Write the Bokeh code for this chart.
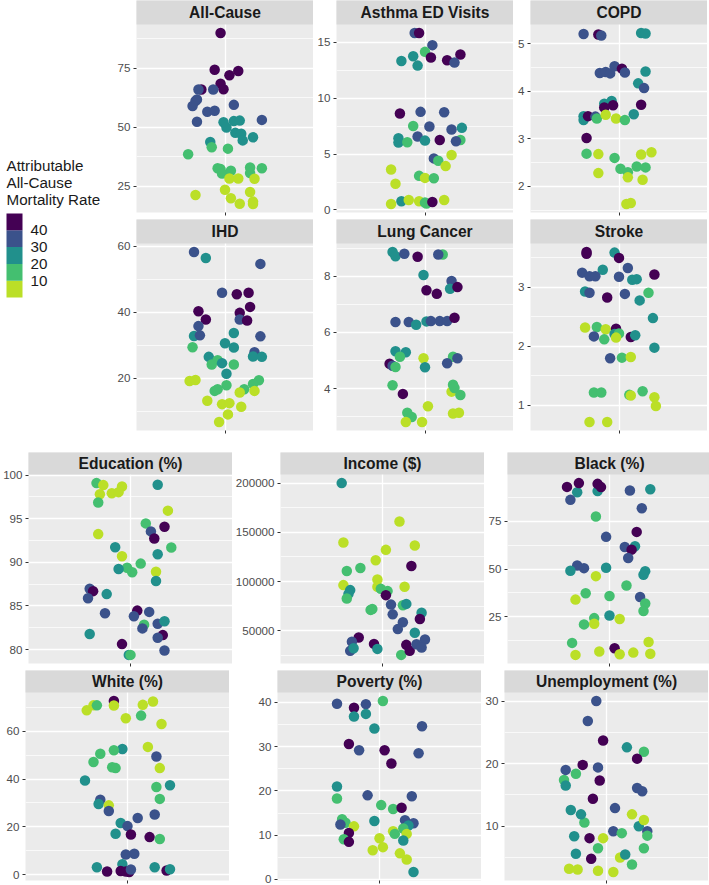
from bokeh.plotting import figure
from bokeh.layouts import row, column
from bokeh.models import Range1d, FixedTicker, NumeralTickFormatter, ColumnDataSource, Spacer
from bokeh.core.properties import value
from bokeh.embed import file_html
from bokeh.resources import INLINE

# ---------------- colour classes (binned attributable all-cause mortality rate) ----------------
CLASS_COLORS = {"P": "#440154", "B": "#3B528B", "T": "#21908C", "G": "#44BF70", "Y": "#BBDF27"}
LEGEND_TITLE = ["Attributable", "All-Cause", "Mortality Rate"]
LEGEND_BREAKS = [10, 20, 30, 40]
LEGEND_EDGES = [0, 10, 20, 30, 40, 50]
LEGEND_CLASSES = ["Y", "G", "T", "B", "P"]

# ---------------- data: x = horizontal jitter, y = value, c = colour class ----------------
ALLCAUSE_X = [-0.03, -0.07, 0.09, 0.03, -0.03, -0.01, -0.16, -0.18, -0.08, -0.19, -0.2, -0.22, 0.06, -0.12, -0.07, -0.19, 0.25,
              -0.01, 0.06, 0.1, 0.01, 0.07, 0.11, 0.12, 0.19, -0.1, -0.09, 0.02, -0.25, -0.05, -0.03, -0.02, 0.04, 0.17, 0.17,
              0.25, 0.03, 0.09, 0.2, 0.0, 0.17, -0.2, 0.04, 0.1, 0.19, 0.19]
ALLCAUSE_Y = [90.0, 74.4, 73.9, 72.1, 68.5, 66.1, 66.0, 66.0, 66.0, 61.8, 61.1, 59.0, 59.5, 56.6, 57.0, 52.3, 53.1, 52.1, 52.6,
              52.8, 49.9, 47.6, 47.2, 44.4, 45.7, 43.7, 41.5, 40.9, 38.5, 32.6, 32.2, 30.3, 31.5, 32.9, 30.5, 32.6, 28.2, 28.2,
              28.1, 23.4, 22.5, 21.2, 19.8, 17.5, 18.4, 17.4]
ALLCAUSE_C = list("PPPPPPPBBBBBBBBBBTTTTTTTTTGGGGGGGGGGYYYYYYYYYY")

ASTHMA_X = [-0.07, -0.04, 0.05, 0.0, -0.08, -0.16, -0.05, 0.04, 0.15, 0.24, 0.2, -0.17, -0.03, 0.13, -0.08, 0.03, 0.18, 0.25,
            -0.05, -0.18, -0.18, -0.12, 0.0, 0.1, 0.24, 0.21, 0.06, 0.09, 0.18, 0.14, -0.23, -0.2, -0.04, 0.0, 0.06, -0.23,
            -0.16, -0.11, -0.04, 0.0, 0.01, 0.05, 0.13]
ASTHMA_Y = [15.81, 15.81, 14.73, 14.13, 13.74, 13.32, 12.9, 13.62, 13.38, 13.89, 13.17, 8.62, 8.77, 8.74, 7.51, 7.46, 7.19,
            7.34, 6.56, 6.41, 6.02, 6.05, 6.2, 6.26, 6.26, 6.14, 4.61, 4.4, 4.91, 3.92, 3.62, 2.34, 3.05, 2.87, 2.84, 0.54,
            0.78, 0.9, 0.78, 0.66, 0.57, 0.72, 0.9]
ASTHMA_C = list("BPBGTTTPPPBPBBGBBTBTTGTPGBBGYYYYGYGYTYYGGPY")

COPD_X = [-0.24, -0.14, -0.12, 0.15, 0.18, -0.13, -0.09, -0.06, -0.03, 0.02, 0.04, 0.18, 0.13, 0.17, -0.05, -0.1, -0.04, -0.1,
          0.15, 0.1, -0.24, -0.24, -0.21, -0.16, -0.15, -0.09, -0.02, 0.04, -0.22, -0.22, -0.14, -0.03, 0.15, 0.22, 0.01,
          0.06, 0.12, 0.18, -0.14, 0.06, 0.16, 0.05, 0.08]
COPD_Y = [5.21, 5.2, 5.18, 5.23, 5.22, 4.39, 4.41, 4.38, 4.53, 4.48, 4.4, 4.42, 4.17, 4.07, 3.8, 3.74, 3.71, 3.66, 3.72, 3.52,
          3.48, 3.4, 3.48, 3.47, 3.43, 3.51, 3.43, 3.4, 3.02, 2.69, 2.68, 2.6, 2.67, 2.72, 2.37, 2.3, 2.42, 2.4, 2.28, 2.19,
          2.14, 1.63, 1.65]
COPD_C = list("BPBTTBBBBPBTTBTTPPPTTTPBGYYGPGYGYYGGGGYYYYY")

IHD_X = [-0.21, -0.13, 0.24, -0.02, 0.08, 0.16, 0.17, -0.18, 0.1, 0.1, 0.15, -0.13, -0.18, -0.21, -0.17, 0.06, 0.24, -0.22,
         0.0, 0.06, -0.11, 0.2, 0.19, 0.25, -0.05, -0.09, -0.02, 0.06, 0.01, -0.24, -0.2, 0.01, -0.07, -0.05, 0.13, 0.23,
         0.19, 0.1, 0.2, -0.12, -0.02, 0.03, 0.11, 0.02, -0.04]
IHD_Y = [58.2, 56.4, 54.6, 45.9, 45.4, 45.9, 41.6, 40.3, 39.8, 37.8, 37.5, 37.8, 35.8, 32.8, 33.0, 33.7, 32.7, 29.4, 30.6,
         29.3, 26.5, 27.9, 26.6, 26.5, 25.5, 24.2, 24.6, 24.2, 21.4, 19.2, 19.5, 17.9, 16.2, 16.7, 16.7, 19.4, 18.3, 15.7,
         16.2, 13.2, 12.2, 12.5, 11.4, 9.1, 6.8]
IHD_C = list("BTBBPPPPPBPPBTBTBGTTTBTTGGTGTYYGGGGGGYYYYYYYY")

LUNG_X = [-0.22, -0.2, -0.14, -0.05, 0.12, 0.09, -0.01, 0.18, 0.17, 0.22, 0.01, 0.08, -0.2, -0.11, -0.06, 0.01, 0.04, 0.1,
          0.15, 0.2, -0.2, -0.13, -0.17, -0.01, 0.19, 0.22, -0.24, -0.22, -0.2, 0.0, 0.15, -0.22, -0.15, 0.18, 0.19, 0.2,
          0.24, 0.02, -0.12, -0.09, 0.19, 0.23, -0.13, -0.02]
LUNG_Y = [8.86, 8.71, 8.8, 8.69, 8.77, 8.77, 8.04, 7.83, 7.55, 7.61, 7.5, 7.37, 6.37, 6.37, 6.27, 6.39, 6.4, 6.4, 6.4, 6.52,
          5.33, 5.29, 5.13, 5.08, 5.13, 5.08, 4.88, 4.81, 4.77, 4.76, 4.9, 4.12, 3.81, 3.89, 4.14, 4.02, 3.77, 3.37, 3.14,
          2.99, 3.11, 3.14, 2.81, 2.81]
LUNG_C = list("TTBPGBTBTPPPBBTTBBBPTTGYGBPBGTBGPYGGGYGGYYYY")

STROKE_X = [-0.22, -0.22, -0.03, 0.0, -0.11, -0.25, -0.2, -0.16, 0.0, 0.06, 0.09, 0.12, 0.24, -0.23, -0.2, -0.08, 0.04, 0.14,
            0.2, 0.23, -0.23, -0.15, -0.09, -0.02, -0.03, 0.0, -0.02, -0.17, -0.1, 0.08, 0.11, 0.24, -0.06, 0.02, 0.08,
            -0.17, -0.12, 0.07, 0.08, 0.16, 0.24, 0.25, -0.2, -0.08]
STROKE_Y = [3.6, 3.57, 3.59, 3.5, 3.3, 3.25, 3.19, 3.19, 3.18, 3.33, 3.13, 3.14, 3.22, 2.93, 2.91, 2.83, 2.89, 2.78, 2.91,
            2.48, 2.32, 2.33, 2.29, 2.3, 2.21, 2.22, 2.15, 2.17, 2.12, 2.16, 2.19, 1.98, 1.8, 1.81, 1.82, 1.22, 1.22, 1.18,
            1.17, 1.24, 1.14, 0.99, 0.72, 0.72]
STROKE_C = list("PPTPTBBBBBTTPTBPBTGTYGYPTGYBGPTTBGYGGGYGYYYY")

EDU_X = [-0.2, -0.16, -0.05, -0.18, -0.11, -0.07, -0.19, 0.16, 0.22, 0.09, 0.12, 0.2, 0.14, -0.19, -0.09, 0.24, -0.05, 0.16,
         0.06, -0.02, -0.07, 0.01, 0.15, 0.15, -0.24, -0.22, -0.25, -0.14, -0.15, 0.04, 0.02, 0.11, 0.08, 0.07, 0.16, 0.2,
         -0.24, 0.19, 0.16, -0.05, 0.2, -0.01, 0.0]
EDU_Y = [99.08, 98.85, 98.69, 97.81, 97.92, 98.04, 96.85, 98.88, 95.92, 94.46, 93.54, 94.08, 92.73, 93.23, 91.73, 91.69,
         90.69, 90.92, 89.85, 89.38, 89.23, 88.85, 88.92, 87.85, 86.96, 86.69, 85.88, 86.35, 84.15, 84.46, 83.81, 84.31,
         82.85, 82.42, 82.96, 83.23, 81.77, 81.65, 81.35, 80.62, 79.88, 79.38, 79.38]
EDU_C = list("GYYYYYGTYGBPPYTGYTGGTGYTBPBTBPBBGBBTTPBPBTG")

INCOME_X = [-0.24, 0.1, -0.23, 0.19, 0.02, -0.04, 0.17, -0.21, -0.13, -0.03, -0.23, -0.03, 0.13, -0.01, 0.03, -0.19, -0.2,
            -0.21, 0.02, 0.05, 0.12, 0.14, -0.07, -0.06, 0.06, 0.23, 0.22, 0.12, 0.09, 0.19, -0.14, -0.18, 0.25, -0.05,
            -0.19, -0.17, -0.03, 0.11, 0.14, 0.16, 0.2, 0.23]
INCOME_Y = [200000, 161000, 139700, 136600, 132200, 121600, 115800, 110700, 113800, 102200, 96400, 94700, 94700, 92600,
            90300, 91300, 87500, 82800, 86200, 76600, 75900, 77300, 71200, 72200, 66700, 68400, 62000, 58600, 51700,
            48000, 43200, 38800, 41200, 36700, 29600, 32300, 31600, 25500, 35700, 29600, 36400, 33000]
INCOME_C = list("TYYYYYPGGYYYYGGTTGPBGTGGBTPBBTPBBPBTTGPPBB")

BLACK_X = [-0.07, -0.19, -0.25, -0.18, -0.07, -0.05, -0.23, 0.12, 0.24, 0.19, -0.08, 0.16, -0.02, 0.09, 0.15, 0.13, 0.11,
           -0.19, -0.15, -0.23, -0.02, 0.21, 0.2, -0.08, 0.1, -0.14, 0.0, 0.18, -0.2, 0.21, 0.2, 0.0, 0.06, -0.09, -0.09,
           -0.15, -0.22, 0.23, 0.03, -0.2, -0.06, 0.06, 0.14, 0.24]
BLACK_Y = [90.9, 90.3, 93.1, 95.1, 94.7, 93.0, 86.3, 91.2, 91.9, 81.9, 77.6, 69.5, 66.9, 61.6, 62.0, 60.2, 55.8, 51.9, 50.5,
           49.1, 50.7, 48.9, 47.0, 46.3, 41.4, 37.3, 35.9, 35.4, 34.0, 32.0, 28.0, 25.7, 23.8, 24.3, 21.3, 21.0, 11.3, 11.8,
           8.5, 5.0, 6.8, 5.3, 6.2, 5.6]
BLACK_C = list("TTPPPPBBTBGPBBTPBBBTTTTYGGGBYGGTYGYGGYPYYYYY")

WHITE_X = [-0.08, -0.08, -0.24, -0.2, -0.18, 0.09, 0.15, -0.01, 0.08, 0.2, 0.12, -0.03, -0.08, -0.16, 0.17, -0.2, -0.09,
           -0.07, 0.19, -0.25, 0.17, 0.25, 0.19, -0.16, -0.17, -0.11, -0.11, 0.16, 0.06, -0.04, 0.0, -0.07, 0.02, 0.13, 0.19,
           -0.01, 0.04, -0.03, -0.18, 0.16, -0.12, -0.04, -0.01, 0.01, 0.02, 0.23, 0.25]
WHITE_Y = [72.7, 70.8, 68.8, 70.9, 70.9, 71.1, 72.5, 65.5, 66.6, 63.1, 53.5, 52.6, 52.1, 50.6, 49.5, 47.2, 45.0, 44.6, 44.6,
           39.4, 36.7, 37.4, 31.7, 31.4, 29.6, 29.0, 26.6, 25.2, 23.7, 21.6, 20.3, 17.1, 16.8, 15.7, 14.9, 8.4, 8.7, 4.3,
           3.1, 3.1, 1.3, 1.5, 1.3, 1.1, 2.1, 1.7, 2.2]
WHITE_C = list("PYYYGYYYGYYTGGBGGGYTGTGBTYBBBTBTPPGBBTTTPPPPBPT")

POVERTY_X = [-0.25, -0.15, -0.08, 0.02, -0.15, -0.08, -0.03, 0.25, -0.18, -0.12, 0.03, 0.23, 0.07, -0.25, -0.25, -0.07, 0.19,
             0.01, 0.08, 0.13, -0.22, -0.2, -0.23, -0.15, -0.03, 0.15, 0.2, 0.17, 0.14, 0.08, 0.09, 0.16, -0.18, -0.21,
             -0.18, 0.0, 0.14, -0.04, 0.02, 0.12, 0.16, 0.2]
POVERTY_Y = [39.7, 38.8, 39.6, 40.3, 36.8, 37.4, 34.1, 34.6, 30.6, 29.2, 29.2, 28.5, 26.2, 21.0, 18.3, 19.0, 18.8, 16.8,
             15.9, 16.2, 13.6, 12.8, 12.4, 12.0, 13.2, 13.4, 12.7, 12.2, 11.5, 10.9, 10.3, 10.3, 10.5, 9.1, 8.5, 9.3, 8.8,
             6.6, 7.3, 5.9, 4.5, 1.7]
POVERTY_C = list("BPBGTTTBPBPBPTGBBGGPGGBYTBBTGYGYPGPYTYYYYT")

UNEMP_X = [-0.06, -0.11, -0.02, 0.12, 0.22, 0.18, -0.14, -0.05, -0.18, -0.25, -0.24, -0.24, 0.18, 0.21, -0.04, -0.08, -0.21,
           0.05, 0.15, -0.13, 0.04, 0.09, 0.19, 0.24, 0.24, -0.19, -0.1, -0.02, -0.05, 0.22, -0.18, -0.09, 0.08, 0.15, -0.22,
           -0.17, -0.05, 0.04, 0.11, -0.15, 0.22]
UNEMP_Y = [30.0, 26.8, 23.7, 22.6, 21.9, 20.8, 19.8, 19.4, 18.4, 17.4, 19.0, 16.5, 16.1, 15.6, 17.3, 14.4, 12.6, 12.9, 11.9,
           10.6, 9.2, 8.9, 10.0, 9.2, 8.5, 8.4, 8.1, 8.1, 6.5, 6.5, 5.6, 4.8, 5.0, 3.9, 3.2, 3.1, 2.9, 2.7, 5.5, 11.9, 11.0]
UNEMP_C = list("BBPTGPPBGGBTBBPPTBYGBGTBGTPYGGTPYGYYYYTTY")

# ---------------- axis breaks (major, minor) ----------------
TICKS = {
    "All-Cause": ([25, 50, 75], [12.5, 37.5, 62.5, 87.5]),
    "Asthma ED Visits": ([0, 5, 10, 15], [2.5, 7.5, 12.5]),
    "COPD": ([2, 3, 4, 5], [1.5, 2.5, 3.5, 4.5]),
    "IHD": ([20, 40, 60], [10, 30, 50]),
    "Lung Cancer": ([4, 6, 8], [3, 5, 7, 9]),
    "Stroke": ([1, 2, 3], [0.5, 1.5, 2.5, 3.5]),
    "Education (%)": ([80, 85, 90, 95, 100], [82.5, 87.5, 92.5, 97.5]),
    "Income ($)": ([50000, 100000, 150000, 200000], [25000, 75000, 125000, 175000]),
    "Black (%)": ([25, 50, 75], [12.5, 37.5, 62.5, 87.5]),
    "White (%)": ([0, 20, 40, 60], [10, 30, 50, 70]),
    "Poverty (%)": ([0, 10, 20, 30, 40], [5, 15, 25, 35]),
    "Unemployment (%)": ([10, 20, 30], [5, 15, 25]),
}

FONT = "Liberation Sans"
X_LO, X_HI = -0.6, 0.6


def make_panel(title, xs, ys, cs, fw, fh, bl, sh, bb):
    """One facet: data panel of height fh with a grey strip of height sh on top (same figure)."""
    lo, hi = min(ys), max(ys)
    pad = 0.05 * (hi - lo)
    y0, y1 = lo - pad, hi + pad
    per_px = (y1 - y0) / fh
    ytop = y1 + sh * per_px

    p = figure(frame_width=fw, frame_height=fh + sh, x_range=Range1d(X_LO, X_HI), y_range=Range1d(y0, ytop),
               toolbar_location=None, output_backend="svg",
               min_border_left=bl, min_border_right=0, min_border_top=0, min_border_bottom=bb,
               background_fill_color="#EBEBEB", border_fill_color="white", outline_line_color=None)
    major, minor = TICKS[title]
    yt = FixedTicker(ticks=major, minor_ticks=minor)
    p.yaxis.ticker = yt
    p.ygrid.ticker = yt
    p.yaxis.formatter = NumeralTickFormatter(format="0")
    p.yaxis.axis_line_color = None
    p.yaxis.major_tick_line_color = "#333333"
    p.yaxis.major_tick_in = 0
    p.yaxis.major_tick_out = 3
    p.yaxis.minor_tick_line_color = None
    p.yaxis.major_label_text_font = FONT
    p.yaxis.major_label_text_font_size = "11.6px"
    p.yaxis.major_label_text_color = "#4D4D4D"
    p.yaxis.major_label_standoff = 2

    xt = FixedTicker(ticks=[0])
    p.xaxis.ticker = xt
    p.xgrid.ticker = xt
    p.xaxis.axis_line_color = None
    p.xaxis.major_tick_line_color = "#333333"
    p.xaxis.major_tick_in = 0
    p.xaxis.major_tick_out = 3
    p.xaxis.minor_tick_line_color = None
    p.xaxis.major_label_text_font_size = "0px"
    p.xaxis.major_label_overrides = {0: ""}
    p.xaxis.major_label_standoff = 0

    p.xgrid.grid_line_color = "white"
    p.xgrid.grid_line_width = 1.3
    p.ygrid.grid_line_color = "white"
    p.ygrid.grid_line_width = 1.3
    p.ygrid.minor_grid_line_color = "white"
    p.ygrid.minor_grid_line_width = 0.7

    src = ColumnDataSource(dict(x=xs, y=ys, color=[CLASS_COLORS[c] for c in cs]))
    p.scatter(x="x", y="y", source=src, size=10.5, fill_color="color", line_color=None)

    # facet strip
    p.quad(left=[X_LO], right=[X_HI], bottom=[y1], top=[ytop], fill_color="#D9D9D9", line_color=None,
           level="annotation")
    p.text(x=[(X_LO + X_HI) / 2], y=[(y1 + ytop) / 2], text=[title], text_align="center", text_baseline="middle",
           text_font=value(FONT), text_font_style="bold", text_font_size="15.6px", text_color="#1A1A1A",
           level="overlay")
    return p


# ---------------- legend ----------------
LEG_W, LEG_H = 110, 437
leg = figure(frame_width=LEG_W, frame_height=LEG_H, x_range=Range1d(0, LEG_W), y_range=Range1d(LEG_H, 0),
             x_axis_type=None, y_axis_type=None, toolbar_location=None, output_backend="svg",
             min_border_left=0, min_border_right=0, min_border_top=0, min_border_bottom=0,
             background_fill_color="white", border_fill_color="white", outline_line_color=None)
bar_top, bar_bottom = 213.0, 297.0


def leg_y(v):
    return bar_bottom - (v - LEGEND_EDGES[0]) / (LEGEND_EDGES[-1] - LEGEND_EDGES[0]) * (bar_bottom - bar_top)


leg.quad(left=6, right=22, bottom=[leg_y(a) for a in LEGEND_EDGES[:-1]], top=[leg_y(b) for b in LEGEND_EDGES[1:]],
         fill_color=[CLASS_COLORS[c] for c in LEGEND_CLASSES], line_color=None)
leg.text(x=30, y=[leg_y(b) for b in LEGEND_BREAKS], text=[str(b) for b in LEGEND_BREAKS], text_align="left",
         text_baseline="middle", text_font=value(FONT), text_font_size="15.2px", text_color="#1A1A1A")
leg.text(x=6, y=[165, 182, 199], text=LEGEND_TITLE, text_align="left", text_baseline="middle",
         text_font=value(FONT), text_font_size="15.2px", text_color="#1A1A1A")

# ---------------- panels ----------------
TW, TS = 177, 24
pA = make_panel("All-Cause", ALLCAUSE_X, ALLCAUSE_Y, ALLCAUSE_C, TW, 188, 26, TS, 7)
pB = make_panel("Asthma ED Visits", ASTHMA_X, ASTHMA_Y, ASTHMA_C, TW, 188, 23, TS, 7)
pC = make_panel("COPD", COPD_X, COPD_Y, COPD_C, TW, 188, 17, TS, 7)
pD = make_panel("IHD", IHD_X, IHD_Y, IHD_C, TW, 187, 26, TS, 7)
pE = make_panel("Lung Cancer", LUNG_X, LUNG_Y, LUNG_C, TW, 187, 23, TS, 7)
pF = make_panel("Stroke", STROKE_X, STROKE_Y, STROKE_C, TW, 187, 17, TS, 7)

BW = 204
pG = make_panel("Education (%)", EDU_X, EDU_Y, EDU_C, BW, 189, 25, 22, 7)
pH = make_panel("Income ($)", INCOME_X, INCOME_Y, INCOME_C, BW, 189, 48, 22, 7)
pI = make_panel("Black (%)", BLACK_X, BLACK_Y, BLACK_C, BW, 189, 23, 22, 7)
pJ = make_panel("White (%)", WHITE_X, WHITE_Y, WHITE_C, BW, 188, 25, 22, 4)
pK = make_panel("Poverty (%)", POVERTY_X, POVERTY_Y, POVERTY_C, BW, 188, 48, 22, 4)
pL = make_panel("Unemployment (%)", UNEMP_X, UNEMP_Y, UNEMP_C, BW, 188, 23, 22, 4)

top = row(leg, column(row(pA, pB, pC, spacing=0), row(pD, pE, pF, spacing=0), spacing=0), spacing=0)
bottom = column(row(pG, pH, pI, spacing=0), row(pJ, pK, pL, spacing=0), spacing=0)
layout = column(top, Spacer(height=15), bottom, spacing=0)

open("out.html", "w").write(file_html(layout, INLINE))
